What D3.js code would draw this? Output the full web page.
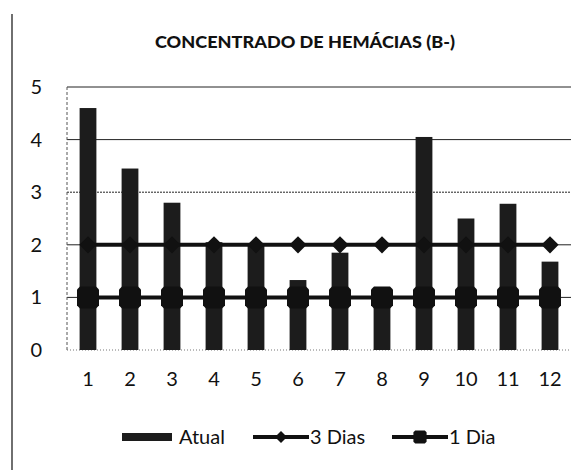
<!DOCTYPE html>
<html>
<head>
<meta charset="utf-8">
<script src="https://cdn.jsdelivr.net/npm/d3@7"></script>
<style>
  body { margin: 0; background: #fff; }
  svg { display: block; }
</style>
</head>
<body>
<svg id="chart"></svg>
<script>
// Chart size
const width = 584;
const height = 472;

// Data
const categories = ["1", "2", "3", "4", "5", "6", "7", "8", "9", "10", "11", "12"];
const atual = [4.6, 3.45, 2.8, 2.05, 2.0, 1.33, 1.85, 1.18, 4.05, 2.5, 2.78, 1.68];
const tresDias = [2, 2, 2, 2, 2, 2, 2, 2, 2, 2, 2, 2];
const umDia = [1, 1, 1, 1, 1, 1, 1, 1, 1, 1, 1, 1];
const yTicks = [0, 1, 2, 3, 4, 5];
const legendLabels = ["Atual", "3 Dias", "1 Dia"];

const FONT = "Lato, 'Open Sans', sans-serif";
const INK = "#111";

const margin = {top: 87, right: 13, bottom: 122, left: 67};

const svg = d3.select("#chart")
    .attr("width", width)
    .attr("height", height);

// Scan border on the left
svg.append("line")
    .attr("x1", 12).attr("x2", 12)
    .attr("y1", 14).attr("y2", 470)
    .attr("stroke", "#222")
    .attr("stroke-width", 1.3);

const x = d3.scaleBand()
    .domain(categories)
    .range([margin.left, width - margin.right])
    .paddingInner(0.6)
    .paddingOuter(0.3);

const y = d3.scaleLinear()
    .domain([0, 5])
    .range([height - margin.bottom, margin.top]);

// Title, stretched to the width seen in the picture (155..455)
svg.append("text")
    .attr("x", 155)
    .attr("y", 48)
    .attr("font-family", FONT)
    .attr("font-weight", 900)
    .attr("font-size", 16)
    .attr("textLength", 300)
    .attr("lengthAdjust", "spacingAndGlyphs")
    .attr("fill", INK)
    .text("CONCENTRADO DE HEMÁCIAS (B-)");

// Gridlines
svg.append("g")
    .selectAll("line")
    .data(yTicks.filter(d => d > 0))
    .join("line")
        .attr("x1", margin.left)
        .attr("x2", width - margin.right)
        .attr("y1", d => y(d))
        .attr("y2", d => y(d))
        .attr("stroke", "#222")
        .attr("stroke-width", 1)
        .attr("stroke-dasharray", d => d === 3 ? "2,1" : null);

// Left edge of plot area and baseline
svg.append("line")
    .attr("x1", margin.left).attr("x2", margin.left)
    .attr("y1", y(5)).attr("y2", y(0))
    .attr("stroke", "#555")
    .attr("stroke-dasharray", "3,2");
svg.append("line")
    .attr("x1", margin.left).attr("x2", width - margin.right)
    .attr("y1", y(0)).attr("y2", y(0))
    .attr("stroke", "#777")
    .attr("stroke-dasharray", "1,2");

// Y axis labels
const yAxis = d3.axisLeft(y).tickValues(yTicks).tickFormat(d3.format("d")).tickSize(0).tickPadding(25);
svg.append("g")
    .attr("transform", `translate(${margin.left},0)`)
    .call(yAxis)
    .call(g => g.select(".domain").remove())
    .call(g => g.selectAll("text")
        .attr("font-family", FONT)
        .attr("font-size", 20)
        .attr("fill", INK));

// X axis labels
const xAxis = d3.axisBottom(x).tickSize(0).tickPadding(22);
svg.append("g")
    .attr("transform", `translate(0,${y(0)})`)
    .call(xAxis)
    .call(g => g.select(".domain").remove())
    .call(g => g.selectAll("text")
        .attr("font-family", FONT)
        .attr("font-size", 20)
        .attr("fill", INK));

// Bars (Atual)
svg.append("g")
    .selectAll("rect")
    .data(atual)
    .join("rect")
        .attr("x", (d, i) => x(categories[i]))
        .attr("y", d => y(d))
        .attr("width", x.bandwidth())
        .attr("height", d => y(0) - y(d))
        .attr("fill", "#1c1c1c");

// Lines
const line = d3.line()
    .x((d, i) => x(categories[i]) + x.bandwidth() / 2)
    .y(d => y(d));

function drawSeries(values, marker) {
    const g = svg.append("g");
    g.append("path")
        .datum(values)
        .attr("d", line)
        .attr("fill", "none")
        .attr("stroke", INK)
        .attr("stroke-width", 4);
    g.selectAll("path.marker")
        .data(values)
        .join("path")
            .attr("class", "marker")
            .attr("transform", (d, i) => `translate(${x(categories[i]) + x.bandwidth() / 2},${y(d)})`)
            .attr("d", marker)
            .attr("fill", INK);
}

const diamond = d3.symbol().type(d3.symbolDiamond2).size(190)();
const square = "M-11,-8 L-8,-11 L8,-11 L11,-8 L11,8 L8,11 L-8,11 L-11,8 Z";

drawSeries(tresDias, diamond);
drawSeries(umDia, square);

// Legend
const legendY = 437;
const legend = svg.append("g");

legend.append("rect")
    .attr("x", 122).attr("y", legendY - 4)
    .attr("width", 50).attr("height", 8)
    .attr("fill", "#1c1c1c");
legend.append("text")
    .attr("x", 179).attr("y", legendY + 7)
    .attr("font-family", FONT).attr("font-size", 20).attr("fill", INK)
    .text(legendLabels[0]);

[[253, diamond, legendLabels[1], 0.7, 310], [392, square, legendLabels[2], 0.6, 449]].forEach(([lx, m, label, k, tx]) => {
    legend.append("line")
        .attr("x1", lx).attr("x2", lx + 56)
        .attr("y1", legendY).attr("y2", legendY)
        .attr("stroke", INK).attr("stroke-width", 4);
    legend.append("path")
        .attr("transform", `translate(${lx + 28},${legendY}) scale(${k})`)
        .attr("d", m)
        .attr("fill", INK);
    legend.append("text")
        .attr("x", tx).attr("y", legendY + 7)
        .attr("font-family", FONT).attr("font-size", 20).attr("fill", INK)
        .text(label);
});
</script>
</body>
</html>
